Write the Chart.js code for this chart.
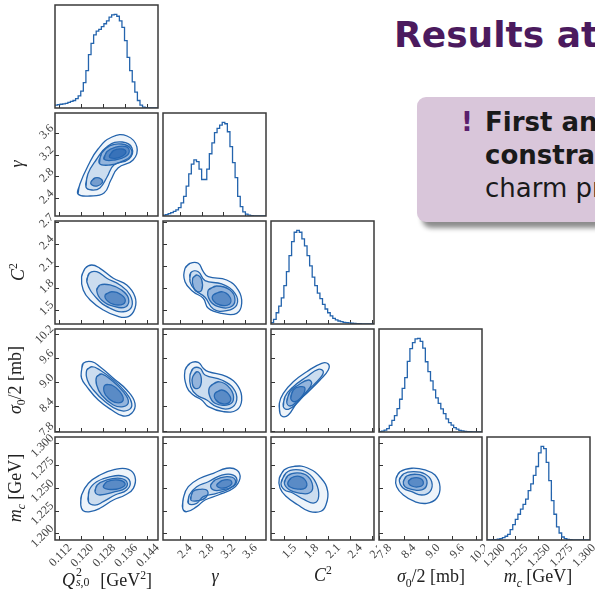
<!DOCTYPE html>
<html>
<head>
<meta charset="utf-8">
<script src="https://cdn.jsdelivr.net/npm/chart.js@4"></script>
<style>
body{margin:0;width:595px;height:590px;overflow:hidden;position:relative;background:#fff;}
.panel{position:absolute;}
.lab{position:absolute;font-family:"Liberation Serif",serif;font-size:18px;color:#222;white-space:nowrap;line-height:1;z-index:5;}
.lab i{font-style:italic;}
.stk{display:inline-block;position:relative;width:1.4em;height:1em;}
.stk span{position:absolute;left:1px;font-size:0.66em;white-space:nowrap;}
.rot{transform:translate(-50%,-50%) rotate(-90deg);}
.hor{transform:translateX(-50%);}
#title{position:absolute;left:394px;top:17px;font-family:"DejaVu Sans",sans-serif;font-weight:700;font-size:36px;line-height:1;color:#4b1a5e;white-space:nowrap;}
#box{position:absolute;left:417px;top:97px;width:220px;height:125px;background:#d9c6da;border-radius:9px;box-shadow:5px 6px 5px rgba(0,0,0,0.45);}
.ln{position:absolute;left:68px;font-family:"DejaVu Sans",sans-serif;font-size:26px;line-height:1;color:#1a1a1a;white-space:nowrap;}
.bang{position:absolute;left:44px;top:12px;font-family:"DejaVu Sans",sans-serif;font-weight:700;font-size:26px;line-height:1;color:#5a1f6c;}
</style>
</head>
<body>
<div id="title">Results at</div>
<div id="box">
  <span class="bang">!</span>
  <div class="ln" style="top:12px;font-weight:700;">First analysis</div>
  <div class="ln" style="top:45px;font-weight:700;">constraining</div>
  <div class="ln" style="top:78px;">charm production</div>
</div>

<div class="lab hor" style="left:107px;top:568px;"><i>Q</i><span class="stk"><span style="top:-0.12em">2</span><span style="top:0.72em"><i>s</i>,0</span></span>[GeV<sup style="font-size:0.65em">2</sup>]</div>
<div class="lab hor" style="left:215px;top:567px;"><i>γ</i></div>
<div class="lab hor" style="left:323px;top:565px;"><i>C</i><sup style="font-size:0.65em">2</sup></div>
<div class="lab hor" style="left:431px;top:567px;"><i>σ</i><sub style="font-size:0.65em">0</sub>/2 [mb]</div>
<div class="lab hor" style="left:538px;top:567px;"><i>m</i><sub style="font-size:0.65em"><i>c</i></sub> [GeV]</div>

<div class="lab rot" style="left:17px;top:164px;"><i>γ</i></div>
<div class="lab rot" style="left:17px;top:272px;"><i>C</i><sup style="font-size:0.65em">2</sup></div>
<div class="lab rot" style="left:17px;top:380px;"><i>σ</i><sub style="font-size:0.65em">0</sub>/2 [mb]</div>
<div class="lab rot" style="left:17px;top:488px;"><i>m</i><sub style="font-size:0.65em"><i>c</i></sub> [GeV]</div>

<script>
// parameter order: Q2_s0, gamma, C2, sigma0/2, m_c
const axisMin = [0.1102, 2.08, 1.31, 7.78, 1.193];
const axisMax = [0.1478, 3.98, 2.72, 10.33, 1.307];

const tickQ2 = [0.112, 0.120, 0.128, 0.136, 0.144];
const tickGamma = [2.4, 2.8, 3.2, 3.6];
const tickC2 = [1.5, 1.8, 2.1, 2.4, 2.7];
const tickSigma = [7.8, 8.4, 9.0, 9.6, 10.2];
const tickMc = [1.200, 1.225, 1.250, 1.275, 1.300];
const tickDigits = [3, 1, 1, 1, 3];

// 1D marginals (40 bins across each axis, normalised to the peak)
const histQ2 = [0.03,0.035,0.04,0.045,0.05,0.06,0.07,0.08,0.10,0.13,0.18,0.27,0.40,0.57,0.69,0.78,0.82,0.84,0.87,0.90,
  0.93,0.97,0.995,1.0,0.98,0.93,0.86,0.72,0.54,0.40,0.28,0.17,0.08,0.03,0.01,0.005,0,0,0,0];
const histGamma = [0.01,0.015,0.025,0.035,0.05,0.065,0.09,0.14,0.21,0.32,0.45,0.555,0.6,0.58,0.5,0.39,0.39,0.5,0.665,0.78,
  0.89,0.935,0.97,1.0,0.985,0.9,0.74,0.57,0.41,0.21,0.1,0.045,0.02,0.01,0.005,0,0,0,0,0];
const histC2 = [0.015,0.05,0.12,0.19,0.28,0.41,0.56,0.73,0.88,0.98,1.0,0.98,0.91,0.835,0.73,0.62,0.5,0.41,0.33,0.27,
  0.21,0.16,0.12,0.086,0.06,0.043,0.032,0.025,0.018,0.014,0.011,0.008,0.006,0.004,0.003,0.002,0.002,0.001,0.001,0];
const histSigma = [0.004,0.01,0.02,0.036,0.07,0.125,0.175,0.25,0.35,0.465,0.58,0.755,0.89,0.955,0.995,1.0,0.967,0.895,0.75,0.645,
  0.545,0.45,0.365,0.305,0.247,0.196,0.14,0.1,0.073,0.047,0.03,0.018,0.011,0.007,0.005,0.003,0.002,0.001,0.001,0];
const histMc = [0,0.002,0.004,0.005,0.008,0.015,0.025,0.04,0.06,0.11,0.165,0.22,0.275,0.33,0.38,0.437,0.527,0.6,0.69,0.785,
  0.93,1.0,0.975,0.83,0.635,0.42,0.275,0.14,0.075,0.032,0.014,0.007,0.004,0.002,0.001,0,0,0,0,0];

// 2D contours: [level, [[x, y], ...]]
const contQ2Gamma = [
  [0, [[0.1186,2.486],[0.1193,2.670],[0.1222,3.002],[0.1259,3.316],[0.1310,3.537],[0.1365,3.556],[0.1401,3.353],[0.1387,3.113],[0.1332,2.965],[0.1306,2.744],[0.1281,2.504],[0.1230,2.449]]],
  [1, [[0.1215,2.615],[0.1222,2.855],[0.1252,3.113],[0.1295,3.371],[0.1347,3.445],[0.1383,3.334],[0.1372,3.131],[0.1317,3.021],[0.1292,2.799],[0.1266,2.597],[0.1237,2.560]]],
  [2, [[0.1264,3.052],[0.1272,3.237],[0.1303,3.377],[0.1345,3.408],[0.1378,3.329],[0.1378,3.187],[0.1345,3.082],[0.1303,3.021]]],
  [3, [[0.1233,2.707],[0.1248,2.781],[0.1270,2.762],[0.1274,2.689],[0.1255,2.633],[0.1237,2.652]]],
  [3, [[0.1281,3.126],[0.1291,3.266],[0.1321,3.347],[0.1361,3.358],[0.1373,3.266],[0.1358,3.174],[0.1321,3.113]]],
  [4, [[0.1300,3.174],[0.1315,3.285],[0.1345,3.316],[0.1361,3.266],[0.1349,3.187],[0.1321,3.144]]]
];
const contQ2C2 = [
  [0, [[0.1199,1.958],[0.1212,2.072],[0.1236,2.118],[0.1266,2.072],[0.1315,1.936],[0.1364,1.844],[0.1394,1.684],[0.1394,1.525],[0.1370,1.410],[0.1327,1.420],[0.1278,1.502],[0.1230,1.639],[0.1205,1.775]]],
  [1, [[0.1218,1.889],[0.1227,2.004],[0.1254,2.026],[0.1291,1.936],[0.1339,1.844],[0.1376,1.707],[0.1382,1.547],[0.1351,1.478],[0.1303,1.525],[0.1254,1.662]]],
  [2, [[0.1254,1.775],[0.1266,1.844],[0.1303,1.844],[0.1345,1.775],[0.1370,1.662],[0.1361,1.547],[0.1321,1.547],[0.1272,1.639]]],
  [3, [[0.1285,1.707],[0.1309,1.752],[0.1345,1.707],[0.1358,1.615],[0.1333,1.570],[0.1297,1.615]]]
];
const contGammaC2 = [
  [0, [[2.486,2.072],[2.578,2.141],[2.731,2.141],[2.823,2.026],[2.916,1.958],[3.255,1.912],[3.469,1.775],[3.532,1.593],[3.440,1.456],[3.163,1.456],[2.916,1.525],[2.823,1.662],[2.639,1.752],[2.486,1.889]]],
  [1, [[2.578,1.889],[2.591,2.012],[2.731,2.026],[2.855,1.903],[3.163,1.858],[3.408,1.730],[3.440,1.570],[3.255,1.492],[3.008,1.515],[2.855,1.676],[2.670,1.775]]],
  [2, [[2.916,1.775],[3.071,1.830],[3.316,1.775],[3.408,1.639],[3.316,1.539],[3.100,1.547],[2.947,1.629]]],
  [2, [[2.628,1.936],[2.702,1.981],[2.794,1.912],[2.794,1.775],[2.713,1.752],[2.639,1.821]]],
  [3, [[3.008,1.707],[3.163,1.752],[3.316,1.676],[3.303,1.580],[3.131,1.570],[3.008,1.629]]]
];
const contQ2Sigma = [
  [0, [[0.1199,9.315],[0.1205,9.481],[0.1236,9.520],[0.1266,9.397],[0.1315,9.110],[0.1364,8.820],[0.1394,8.491],[0.1382,8.243],[0.1351,8.176],[0.1309,8.325],[0.1260,8.572],[0.1218,8.902],[0.1199,9.110]]],
  [1, [[0.1218,9.315],[0.1236,9.397],[0.1266,9.315],[0.1315,9.067],[0.1358,8.778],[0.1382,8.491],[0.1370,8.325],[0.1333,8.325],[0.1285,8.530],[0.1242,8.820],[0.1220,9.067]]],
  [2, [[0.1254,9.149],[0.1272,9.216],[0.1315,9.025],[0.1351,8.778],[0.1370,8.530],[0.1351,8.407],[0.1315,8.449],[0.1272,8.696],[0.1254,8.944]]],
  [3, [[0.1285,8.944],[0.1309,8.944],[0.1339,8.778],[0.1351,8.572],[0.1327,8.506],[0.1297,8.614],[0.1281,8.778]]]
];
const contGammaSigma = [
  [0, [[2.486,9.315],[2.578,9.481],[2.731,9.506],[2.823,9.357],[2.916,9.273],[3.255,9.149],[3.469,8.902],[3.532,8.572],[3.440,8.325],[3.192,8.283],[2.916,8.407],[2.794,8.572],[2.639,8.696],[2.517,8.902]]],
  [1, [[2.578,9.191],[2.639,9.357],[2.763,9.357],[2.855,9.191],[3.163,9.067],[3.377,8.862],[3.440,8.572],[3.316,8.367],[3.071,8.407],[2.886,8.572],[2.702,8.696],[2.591,8.902]]],
  [2, [[2.947,8.902],[3.100,9.025],[3.316,8.862],[3.377,8.572],[3.255,8.448],[3.039,8.491],[2.935,8.696]]],
  [2, [[2.628,9.149],[2.702,9.273],[2.781,9.149],[2.763,8.902],[2.670,8.862],[2.620,8.986]]],
  [3, [[3.039,8.738],[3.163,8.820],[3.303,8.696],[3.316,8.530],[3.192,8.473],[3.057,8.572]]]
];
const contC2Sigma = [
  [0, [[1.433,8.243],[1.424,8.491],[1.478,8.738],[1.615,9.025],[1.799,9.273],[2.004,9.481],[2.094,9.464],[2.094,9.315],[1.981,9.067],[1.821,8.778],[1.662,8.491],[1.547,8.201],[1.470,8.159]]],
  [1, [[1.478,8.407],[1.502,8.655],[1.615,8.902],[1.799,9.149],[1.957,9.332],[2.026,9.273],[1.981,9.110],[1.799,8.778],[1.662,8.491],[1.547,8.342]]],
  [2, [[1.525,8.530],[1.570,8.778],[1.684,8.944],[1.821,9.067],[1.867,8.986],[1.799,8.778],[1.662,8.530],[1.570,8.424]]],
  [3, [[1.580,8.614],[1.615,8.820],[1.707,8.902],[1.775,8.862],[1.730,8.655],[1.639,8.530]]]
];
const contQ2Mc = [
  [0, [[0.1196,1.2317],[0.1199,1.2428],[0.1224,1.2558],[0.1266,1.2649],[0.1321,1.2712],[0.1370,1.2712],[0.1394,1.2631],[0.1388,1.2502],[0.1358,1.2428],[0.1315,1.2373],[0.1266,1.2281],[0.1230,1.2243],[0.1205,1.2254]]],
  [1, [[0.1224,1.2354],[0.1227,1.2483],[0.1254,1.2575],[0.1303,1.2631],[0.1351,1.2638],[0.1376,1.2575],[0.1364,1.2483],[0.1321,1.2428],[0.1278,1.2354],[0.1248,1.2317]]],
  [2, [[0.1248,1.2465],[0.1256,1.2539],[0.1291,1.2594],[0.1339,1.2613],[0.1364,1.2575],[0.1358,1.2502],[0.1321,1.2465],[0.1266,1.2428]]],
  [3, [[0.1278,1.2520],[0.1291,1.2575],[0.1333,1.2594],[0.1358,1.2550],[0.1339,1.2502],[0.1297,1.2491]]]
];
const contGammaMc = [
  [0, [[2.443,1.2281],[2.455,1.2392],[2.547,1.2520],[2.763,1.2613],[3.008,1.2668],[3.255,1.2724],[3.440,1.2705],[3.500,1.2613],[3.377,1.2502],[3.100,1.2428],[2.855,1.2373],[2.702,1.2299],[2.517,1.2243]]],
  [1, [[2.547,1.2336],[2.565,1.2428],[2.702,1.2520],[2.916,1.2575],[3.163,1.2649],[3.377,1.2649],[3.440,1.2575],[3.316,1.2502],[3.071,1.2447],[2.823,1.2410],[2.702,1.2336]]],
  [2, [[2.960,1.2539],[3.039,1.2594],[3.255,1.2631],[3.408,1.2602],[3.377,1.2528],[3.163,1.2484],[3.008,1.2484]]],
  [2, [[2.591,1.2373],[2.628,1.2465],[2.763,1.2491],[2.897,1.2476],[2.873,1.2403],[2.731,1.2365]]],
  [3, [[3.071,1.2539],[3.163,1.2586],[3.316,1.2594],[3.347,1.2550],[3.255,1.2513],[3.131,1.2506]]]
];
const contC2Mc = [
  [0, [[1.424,1.2616],[1.492,1.2708],[1.629,1.2746],[1.812,1.2727],[1.994,1.2616],[2.086,1.2469],[2.063,1.2321],[1.994,1.2248],[1.834,1.2248],[1.675,1.2321],[1.515,1.2414],[1.433,1.2506]]],
  [1, [[1.447,1.2561],[1.515,1.2672],[1.652,1.2708],[1.812,1.2672],[1.926,1.2561],[1.963,1.2414],[1.903,1.2340],[1.766,1.2376],[1.607,1.2450],[1.492,1.2487]]],
  [2, [[1.492,1.2561],[1.539,1.2642],[1.675,1.2672],[1.812,1.2635],[1.881,1.2524],[1.834,1.2450],[1.697,1.2450],[1.560,1.2487]]],
  [3, [[1.539,1.2561],[1.584,1.2616],[1.697,1.2635],[1.789,1.2580],[1.780,1.2506],[1.675,1.2494],[1.570,1.2517]]]
];
const contSigmaMc = [
  [0, [[8.201,1.2613],[8.300,1.2686],[8.590,1.2724],[8.919,1.2705],[9.167,1.2649],[9.290,1.2520],[9.208,1.2392],[8.961,1.2336],[8.671,1.2354],[8.382,1.2428],[8.217,1.2520]]],
  [1, [[8.283,1.2594],[8.382,1.2660],[8.630,1.2686],[8.919,1.2660],[9.085,1.2575],[9.043,1.2465],[8.837,1.2428],[8.590,1.2465],[8.382,1.2502]]],
  [2, [[8.382,1.2575],[8.465,1.2638],[8.713,1.2657],[8.919,1.2624],[8.961,1.2539],[8.837,1.2484],[8.590,1.2491],[8.424,1.2520]]],
  [3, [[8.506,1.2575],[8.590,1.2613],[8.795,1.2613],[8.878,1.2558],[8.779,1.2520],[8.590,1.2528]]]
];

const ticksAll = [tickQ2, tickGamma, tickC2, tickSigma, tickMc];
const hists = [histQ2, histGamma, histC2, histSigma, histMc];
const pairs = [
  [1, 0, contQ2Gamma], [2, 0, contQ2C2], [2, 1, contGammaC2],
  [3, 0, contQ2Sigma], [3, 1, contGammaSigma], [3, 2, contC2Sigma],
  [4, 0, contQ2Mc], [4, 1, contGammaMc], [4, 2, contC2Mc], [4, 3, contSigmaMc]
];

// layout
const colX = [55, 163, 271, 379, 487];
const rowY = [5, 113, 221, 329, 437];
const SIZE = 103;
const lineBlue = '#2464ad';
const levelFill = ['rgba(70,135,205,0.09)', 'rgba(45,110,190,0.18)', 'rgba(35,100,180,0.34)', 'rgba(25,90,170,0.5)', 'rgba(20,80,160,0.6)'];

const frame = {
  id: 'frame',
  afterDraw(chart) {
    const {ctx, chartArea: a} = chart;
    ctx.save();
    ctx.strokeStyle = '#3a3a3a';
    ctx.lineWidth = 1.5;
    ctx.strokeRect(a.left, a.top, a.width, a.height);
    ctx.restore();
  }
};

function axisFor(p, showLabels, isX, size) {
  return {
    type: 'linear',
    min: axisMin[p],
    max: axisMax[p],
    afterBuildTicks: s => { s.ticks = ticksAll[p].map(v => ({value: v})); },
    afterFit: s => {
      if (isX) s.height = size; else s.width = size;
      s.paddingLeft = s.paddingRight = s.paddingTop = s.paddingBottom = 0;
    },
    ticks: {
      display: showLabels,
      autoSkip: false,
      minRotation: 45,
      maxRotation: 45,
      padding: isX ? 5 : 7,
      labelOffset: isX ? 10 : -7,
      color: '#444',
      font: {family: 'Liberation Serif', size: 12},
      callback: v => v.toFixed(tickDigits[p])
    },
    grid: {drawOnChartArea: false, tickLength: -4, color: '#333', tickWidth: 1},
    border: {display: false}
  };
}

function addPanel(r, c, datasets, isHist) {
  const L = c === 0 ? 56 : 3, B = r === 4 ? 54 : 3;
  const T = c === 0 ? 10 : 3, R = c === 4 ? 6 : 3;
  const wrap = document.createElement('div');
  wrap.className = 'panel';
  wrap.style.left = (colX[c] - L) + 'px';
  wrap.style.top = (rowY[r] - T) + 'px';
  const cv = document.createElement('canvas');
  cv.width = SIZE + L + R;
  cv.height = SIZE + T + B;
  cv.style.width = cv.width + 'px';
  cv.style.height = cv.height + 'px';
  wrap.appendChild(cv);
  document.body.appendChild(wrap);

  new Chart(cv, {
    type: 'line',
    data: {datasets: datasets},
    options: {
      responsive: false,
      animation: false,
      events: [],
      layout: {padding: {top: T, right: R, left: isHist ? L : 0, bottom: 0}},
      plugins: {legend: {display: false}, tooltip: {enabled: false}},
      scales: {
        x: axisFor(c, r === 4, true, B),
        y: isHist ? {display: false, min: 0, max: 1.1} : axisFor(r, c === 0, false, L)
      }
    },
    plugins: [frame]
  });
}

// diagonal histograms
hists.forEach((h, p) => {
  const w = (axisMax[p] - axisMin[p]) / h.length;
  const pts = h.map((v, i) => ({x: axisMin[p] + i * w, y: v}));
  pts.push({x: axisMax[p], y: h[h.length - 1]});
  addPanel(p, p, [{
    data: pts,
    stepped: true,
    borderColor: lineBlue,
    borderWidth: 1.3,
    pointRadius: 0,
    fill: false
  }], true);
});

// off-diagonal contours
pairs.forEach(([r, c, polys]) => {
  const sets = polys.map(([lvl, pts]) => ({
    data: pts.concat([pts[0], pts[1]]).map(([x, y]) => ({x, y})),
    borderColor: lineBlue,
    borderWidth: 1.3,
    pointRadius: 0,
    tension: 0.45,
    fill: 'shape',
    backgroundColor: levelFill[lvl]
  }));
  addPanel(r, c, sets, false);
});
</script>
</body>
</html>
